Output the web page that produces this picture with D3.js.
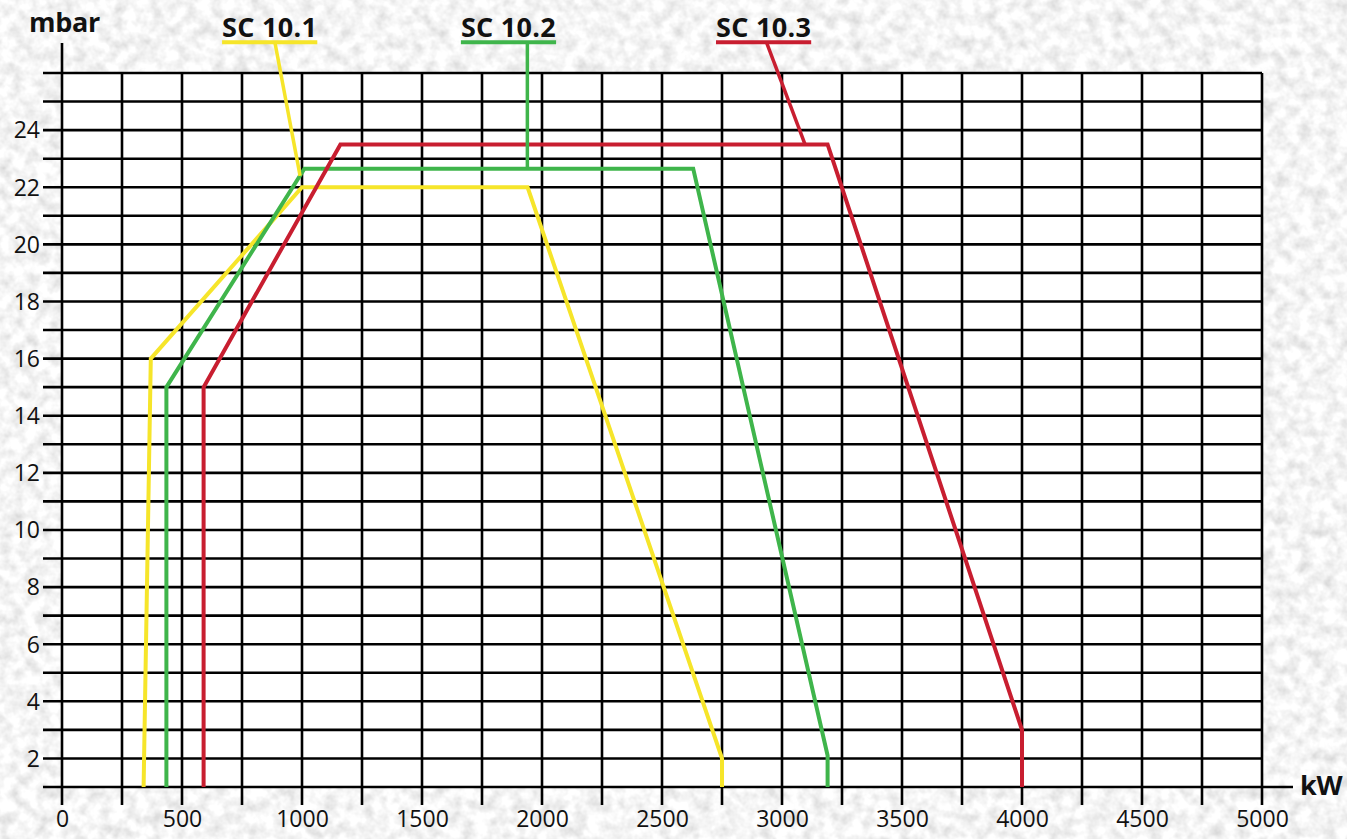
<!DOCTYPE html>
<html>
<head>
<meta charset="utf-8">
<script src="https://cdn.jsdelivr.net/npm/d3@7"></script>
<style>
html,body{margin:0;padding:0;background:#e9e9e9;}
svg{display:block;}
text{font-family:"Open Sans","Noto Sans",sans-serif;fill:#111;}
</style>
</head>
<body>
<svg id="chart" width="1347" height="839"></svg>
<script>
// ---- data ----
const xTicks = [0, 500, 1000, 1500, 2000, 2500, 3000, 3500, 4000, 4500, 5000];
const yTicks = [2, 4, 6, 8, 10, 12, 14, 16, 18, 20, 22, 24];
const seriesNames = ["SC 10.1", "SC 10.2", "SC 10.3"];
const seriesColors = ["#f6e52a", "#3fb54b", "#c81e30"];
const sc101 = [[340, 1], [370, 16], [1000, 22], [1940, 22], [2750, 2], [2750, 1]];
const sc102 = [[435, 1], [435, 15], [1010, 22.65], [2630, 22.65], [3190, 2.1], [3190, 1]];
const sc103 = [[590, 1], [590, 15], [1160, 23.5], [3190, 23.5], [4000, 3], [4000, 1]];
// leader lines from label underline to curve: [kW, mbar] pairs
const leader101 = [[887, 27.08], [992, 22.4]];
const leader102 = [[1939, 27.08], [1939, 22.65]];
const leader103 = [[2935, 27.08], [3096, 23.5]];
// label start positions in kW
const labelStart = [667, 1662, 2725];

const svg = d3.select("#chart");
const W = 1347, H = 839;

// textured background
const defs = svg.append("defs");
const f = defs.append("filter").attr("id", "tex").attr("x", 0).attr("y", 0).attr("width", "100%").attr("height", "100%");
f.append("feTurbulence").attr("type", "fractalNoise").attr("baseFrequency", 0.08).attr("numOctaves", 3).attr("seed", 7).attr("result", "n");
f.append("feColorMatrix").attr("in", "n").attr("type", "matrix")
  .attr("values", "0.55 0 0 0 0.64  0.55 0 0 0 0.64  0.55 0 0 0 0.64  0 0 0 0 1");
svg.append("rect").attr("width", W).attr("height", H).attr("fill", "#e6e6e6");
svg.append("rect").attr("width", W).attr("height", H).attr("filter", "url(#tex)");

const x = d3.scaleLinear().domain([0, 5000]).range([62, 1262]);
const y = d3.scaleLinear().domain([1, 26]).range([787, 73]);

// plot area
svg.append("rect").attr("x", x(0)).attr("y", y(26)).attr("width", x(5000) - x(0)).attr("height", y(1) - y(26)).attr("fill", "#fff");

const grid = svg.append("g").attr("stroke", "#000").attr("stroke-width", 2.6);
// horizontal lines each 1 mbar
grid.selectAll(".h").data(d3.range(1, 27)).join("line")
  .attr("x1", 43).attr("x2", d => d === 1 ? 1293 : x(5000))
  .attr("y1", d => y(d)).attr("y2", d => y(d));
// vertical lines each 250 kW
grid.selectAll(".v").data(d3.range(0, 5001, 250)).join("line")
  .attr("x1", d => x(d)).attr("x2", d => x(d))
  .attr("y1", d => d === 0 ? 43 : y(26)).attr("y2", 805);

// tick labels
const yAxis = d3.axisLeft(y).tickValues(yTicks).tickSize(0).tickPadding(0).tickFormat(d3.format("d"));
const gy = svg.append("g").attr("transform", "translate(40,0)").call(yAxis);
gy.select(".domain").remove();
gy.selectAll("text").attr("font-size", 23).attr("font-family", "'Open Sans',sans-serif").attr("fill", "#111").attr("dy", "0.34em");

const xAxis = d3.axisBottom(x).tickValues(xTicks).tickSize(0).tickPadding(0).tickFormat(d3.format("d"));
const gx = svg.append("g").attr("transform", "translate(0,811)").call(xAxis);
gx.select(".domain").remove();
gx.selectAll("text").attr("font-size", 23).attr("font-family", "'Open Sans',sans-serif").attr("fill", "#111").attr("dy", "0.7em");

// axis titles
svg.append("text").attr("x", 29).attr("y", 32).attr("font-size", 27).attr("font-weight", 700).attr("letter-spacing", -0.3).text("mbar");
svg.append("text").attr("x", 1300).attr("y", 795).attr("font-size", 27).attr("font-weight", 700).attr("letter-spacing", -0.3).text("kW");

// series
const line = d3.line().x(d => x(d[0])).y(d => y(d[1]));
const series = [sc101, sc102, sc103];
const leaders = [leader101, leader102, leader103];

series.forEach((s, i) => {
  svg.append("path").attr("d", line(s)).attr("fill", "none")
    .attr("stroke", seriesColors[i]).attr("stroke-width", 4).attr("stroke-linejoin", "miter");
});

// labels with coloured underline and leaders
seriesNames.forEach((name, i) => {
  const lx = x(labelStart[i]);
  const t = svg.append("text").attr("x", lx).attr("y", 37).attr("font-size", 27).attr("font-weight", 700)
    .attr("letter-spacing", 0.3).text(name);
  const bb = t.node().getBBox();
  svg.append("line").attr("x1", lx).attr("x2", lx + bb.width).attr("y1", y(27.08)).attr("y2", y(27.08))
    .attr("stroke", seriesColors[i]).attr("stroke-width", 4);
  svg.append("path").attr("d", line(leaders[i])).attr("fill", "none")
    .attr("stroke", seriesColors[i]).attr("stroke-width", 3.5);
});
</script>
</body>
</html>
